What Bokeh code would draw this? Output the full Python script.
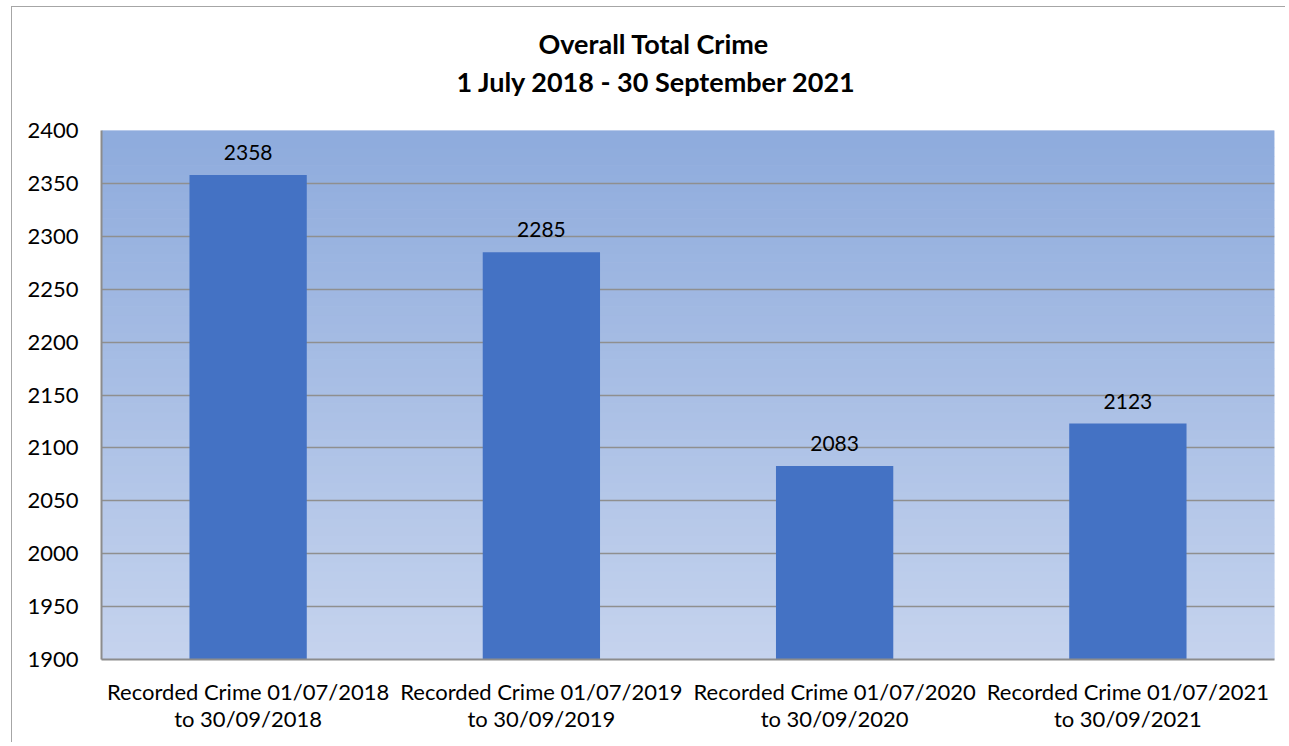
from bokeh.plotting import figure
from bokeh.models import ColumnDataSource, BoxAnnotation, FixedTicker, Title
from bokeh.embed import file_html
from bokeh.resources import INLINE
from bokeh.core.properties import value

categories = [
    "Recorded Crime 01/07/2018\nto 30/09/2018",
    "Recorded Crime 01/07/2019\nto 30/09/2019",
    "Recorded Crime 01/07/2020\nto 30/09/2020",
    "Recorded Crime 01/07/2021\nto 30/09/2021",
]
crimes = [2358, 2285, 2083, 2123]
y_ticks = [1900, 1950, 2000, 2050, 2100, 2150, 2200, 2250, 2300, 2350, 2400]
title_lines = ["Overall Total Crime", "1 July 2018 - 30 September 2021"]

FONT = "Lato"

p = figure(
    x_range=categories, y_range=(1900, 2400),
    width=1285, height=742,
    output_backend="svg", toolbar_location=None,
    min_border_left=101, min_border_right=11, min_border_top=130, min_border_bottom=83,
)
p.title = None
p.background_fill_color = "#C4D3EE"
p.border_fill_color = None
p.outline_line_color = None
# thin outer chart border (top and left edges) drawn behind the transparent canvas
p.styles = {
    "background-color": "white",
    "background-image": "linear-gradient(#A6A6A6, #A6A6A6), linear-gradient(#A6A6A6, #A6A6A6)",
    "background-size": "1500px 1px, 1px 1000px",
    "background-position": "11px 6px, 11px 6px",
    "background-repeat": "no-repeat",
}

# vertical gradient background (darker at the top)
n = 60
top_c = (143, 172, 221)
bot_c = (197, 211, 238)
for i in range(n):
    t = i / (n - 1)
    r = int(bot_c[0] + (top_c[0] - bot_c[0]) * t)
    g = int(bot_c[1] + (top_c[1] - bot_c[1]) * t)
    b = int(bot_c[2] + (top_c[2] - bot_c[2]) * t)
    y0 = 1900 + 500 * i / n
    y1 = 1900 + 500 * (i + 1) / n + 0.5
    p.add_layout(BoxAnnotation(bottom=y0, top=y1, fill_color=(r, g, b), fill_alpha=1.0,
                               line_color=None, level="image"))

src = ColumnDataSource(dict(x=categories, top=crimes, lab=[str(v) for v in crimes]))
p.vbar(x="x", top="top", bottom=1900, width=0.4, source=src, fill_color="#4472C4", line_color=None)
p.text(x="x", y="top", text="lab", source=src, text_align="center", text_baseline="bottom",
       y_offset=-15, text_font=value(FONT), text_font_size="21px", text_color="black")

# empty spacer panel next to the plot, then the two title lines
p.add_layout(Title(text=" ", text_font=FONT, text_font_size="24px", standoff=0), "above")
p.add_layout(Title(text=title_lines[1], align="left", offset=355,
                   text_font=FONT, text_font_size="27px", text_font_style="bold",
                   text_color="black", standoff=3), "above")
p.add_layout(Title(text=title_lines[0], align="left", offset=437,
                   text_font=FONT, text_font_size="27px", text_font_style="bold",
                   text_color="black", standoff=3), "above")

p.xgrid.grid_line_color = None
p.ygrid.grid_line_color = "#8F8F8F"
p.ygrid.grid_line_width = 1.5
p.ygrid.ticker = FixedTicker(ticks=y_ticks)
p.yaxis.ticker = FixedTicker(ticks=y_ticks)

for ax in (p.xaxis, p.yaxis):
    ax.major_tick_line_color = None
    ax.minor_tick_line_color = None
    ax.axis_line_color = "#8C8C8C"
    ax.axis_line_width = 2
    ax.major_label_text_font = FONT
    ax.major_label_text_font_size = "22px"
    ax.major_label_text_color = "black"
p.xaxis.major_label_text_line_height = 1.0
p.yaxis.major_label_standoff = 17
p.xaxis.major_label_standoff = 12
p.x_range.range_padding = 0.0

open("out.html", "w").write(file_html(p, INLINE))
